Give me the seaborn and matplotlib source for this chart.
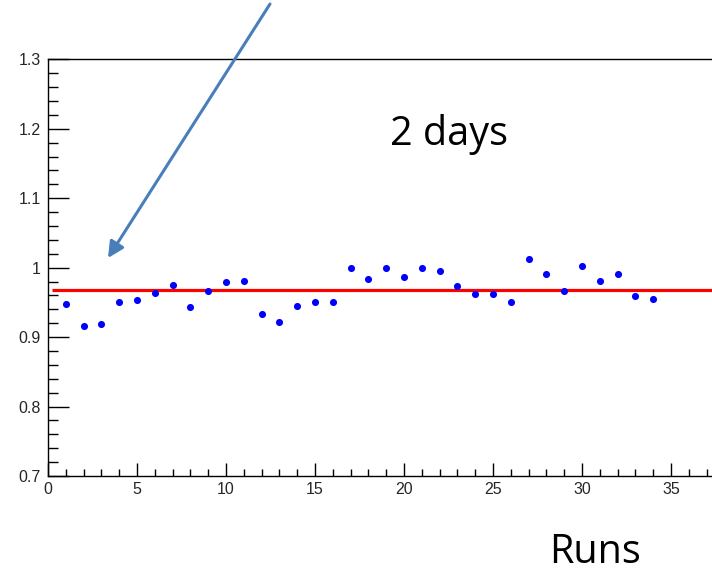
import matplotlib
matplotlib.use("Agg")
import matplotlib.pyplot as plt
import seaborn as sns
import pandas as pd
from matplotlib.ticker import MultipleLocator, FuncFormatter

runs = list(range(1, 35))
ratio = [0.947, 0.916, 0.919, 0.951, 0.953, 0.963, 0.975, 0.943, 0.967, 0.979,
         0.981, 0.933, 0.922, 0.945, 0.951, 0.951, 0.999, 0.983, 0.999, 0.986,
         0.999, 0.995, 0.973, 0.962, 0.962, 0.951, 1.013, 0.991, 0.967, 1.003,
         0.981, 0.991, 0.959, 0.955]
mean_level = 0.968
annotation_text = "2 days"
xlabel_text = "Runs"

sns.set_theme(style="white")
plt.rcParams['font.family'] = ['Liberation Sans', 'DejaVu Sans']

df = pd.DataFrame({"run": runs, "ratio": ratio})

fig = plt.figure(figsize=(7.12, 5.73), dpi=100)
ax = fig.add_axes([48/712, 1-476/573, 1-48/712, (476-59.3)/573])

sns.scatterplot(data=df, x="run", y="ratio", ax=ax, color="#0000ff", s=26,
                linewidth=0, marker="o", zorder=3)
ax.hlines(mean_level, 0.2, 37.3, color="#ff0000", lw=2.3, zorder=2)

ax.set_xlim(0, 37.3)
ax.set_ylim(0.7, 1.3)
ax.set_xlabel("")
ax.set_ylabel("")

for s in ["top", "left", "bottom"]:
    ax.spines[s].set_visible(True)
    ax.spines[s].set_color("black")
    ax.spines[s].set_linewidth(1.0)
ax.spines["right"].set_visible(False)

ax.xaxis.set_major_locator(MultipleLocator(5))
ax.xaxis.set_minor_locator(MultipleLocator(1))
ax.yaxis.set_major_locator(MultipleLocator(0.1))
ax.yaxis.set_minor_locator(MultipleLocator(0.02))

def yfmt(v, pos):
    s = f"{v:.1f}"
    return "1" if s == "1.0" else s
ax.yaxis.set_major_formatter(FuncFormatter(yfmt))
ax.xaxis.set_major_formatter(FuncFormatter(lambda v, p: f"{int(round(v))}"))

ax.tick_params(axis="y", which="major", direction="in", length=15, width=1,
               labelsize=11.5, pad=5, color="black", left=True)
ax.tick_params(axis="y", which="minor", direction="in", length=7.2, width=1,
               color="black", left=True)
ax.tick_params(axis="x", which="major", direction="in", length=9.5, width=1,
               labelsize=11.5, pad=4, color="black", bottom=True)
ax.tick_params(axis="x", which="minor", direction="in", length=5, width=1,
               color="black", bottom=True)
ax.grid(False)

fig.text(449/712, 1-145/573, annotation_text, fontsize=28.5, family=["Open Sans", "DejaVu Sans"],
         ha="center", va="baseline", color="black")
fig.text(595/712, 1-563/573, xlabel_text, fontsize=28.5, family=["Open Sans", "DejaVu Sans"],
         ha="center", va="baseline", color="black")

ax.annotate("", xy=(108/712, 1-258/573), xycoords="figure fraction",
            xytext=(270/712, 1-4/573), textcoords="figure fraction",
            arrowprops=dict(arrowstyle="-|>", color="#4a7ebb", lw=2.2,
                            mutation_scale=24, shrinkA=0, shrinkB=0),
            annotation_clip=False)

fig.savefig("out.png", dpi=100)
